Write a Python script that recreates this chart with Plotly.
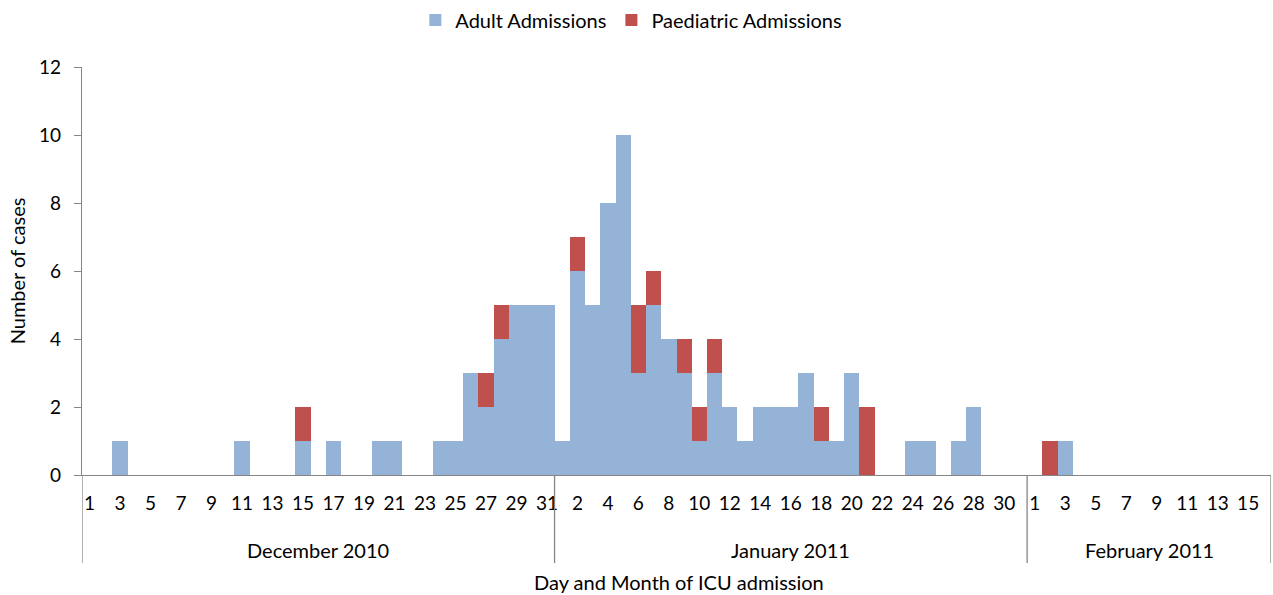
import plotly.graph_objects as go

# Daily ICU admissions, one entry per calendar day
dec_days = list(range(1, 32))
dec_adult = [0, 0, 1, 0, 0, 0, 0, 0, 0, 0,
             1, 0, 0, 0, 1, 0, 1, 0, 0, 1,
             1, 0, 0, 1, 1, 3, 2, 4, 5, 5, 5]
dec_paed = [0, 0, 0, 0, 0, 0, 0, 0, 0, 0,
            0, 0, 0, 0, 1, 0, 0, 0, 0, 0,
            0, 0, 0, 0, 0, 0, 1, 1, 0, 0, 0]

jan_days = list(range(1, 32))
jan_adult = [1, 6, 5, 8, 10, 3, 5, 4, 3, 1,
             3, 2, 1, 2, 2, 2, 3, 1, 1, 3,
             0, 0, 0, 1, 1, 0, 1, 2, 0, 0, 0]
jan_paed = [0, 1, 0, 0, 0, 2, 1, 0, 1, 1,
            1, 0, 0, 0, 0, 0, 0, 1, 0, 0,
            2, 0, 0, 0, 0, 0, 0, 0, 0, 0, 0]

feb_days = list(range(1, 17))
feb_adult = [0, 0, 1, 0, 0, 0, 0, 0, 0, 0, 0, 0, 0, 0, 0, 0]
feb_paed = [0, 1, 0, 0, 0, 0, 0, 0, 0, 0, 0, 0, 0, 0, 0, 0]

month_labels = ["December 2010", "January 2011", "February 2011"]
series_names = ["Adult Admissions", "Paediatric Admissions"]
y_ticks = [0, 2, 4, 6, 8, 10, 12]

BLUE = "#95B3D7"
RED = "#C0504D"
AXIS = "#868686"
FONT = "Lato"
TXT = 20
TICK = 19

months = [(dec_days, dec_adult, dec_paed),
          (jan_days, jan_adult, jan_paed),
          (feb_days, feb_adult, feb_paed)]

x_pos, day_lab, adult, paed = [], [], [], []
bounds = [-0.5]
for days, a, p in months:
    for d, av, pv in zip(days, a, p):
        x_pos.append(len(x_pos))
        day_lab.append(d)
        adult.append(av)
        paed.append(pv)
    bounds.append(len(x_pos) - 0.5)

# every other category carries a day label
tick_vals = x_pos[::2]
tick_text = [str(d) for d in day_lab[::2]]

fig = go.Figure()
fig.add_trace(go.Bar(x=x_pos, y=adult, name=series_names[0],
                     marker=dict(color=BLUE, line=dict(width=0))))
fig.add_trace(go.Bar(x=x_pos, y=paed, name=series_names[1],
                     marker=dict(color=RED, line=dict(width=0))))

plot_h = 408
sep_bottom = -(563 - 475) / plot_h
month_y = -(550 - 475) / plot_h

# month separators below the category axis
shapes = []
for b in bounds:
    shapes.append(dict(type="line", xref="x", yref="paper", x0=b, x1=b,
                       y0=sep_bottom, y1=0, line=dict(color=AXIS, width=1.3)))

annotations = []
for i, lab in enumerate(month_labels):
    annotations.append(dict(x=(bounds[i] + bounds[i + 1]) / 2, y=month_y,
                            xref="x", yref="paper", text=lab, showarrow=False,
                            font=dict(family=FONT, size=TXT, color="black"),
                            yanchor="middle"))
annotations.append(dict(x=0.502, y=-(582 - 475) / plot_h, xref="paper", yref="paper",
                        text="Day and Month of ICU admission", showarrow=False,
                        font=dict(family=FONT, size=TXT, color="black"),
                        yanchor="middle"))

fig.update_layout(
    barmode="stack",
    bargap=0,
    width=1273,
    height=595,
    margin=dict(l=82, r=2, t=67, b=120, autoexpand=False),
    plot_bgcolor="white",
    paper_bgcolor="white",
    font=dict(family=FONT, size=TXT, color="black"),
    legend=dict(orientation="h", x=0.462, xanchor="center",
                y=1 + (67 - 20) / plot_h, yanchor="middle",
                font=dict(family=FONT, size=TXT), itemwidth=30,
                traceorder="normal"),
    shapes=shapes,
    annotations=annotations,
    xaxis=dict(range=[-0.5, len(x_pos) - 0.5], tickvals=tick_vals,
               ticktext=tick_text, tickangle=0, showline=True, linecolor=AXIS,
               linewidth=1.3, ticks="", showgrid=False, zeroline=False,
               tickfont=dict(family=FONT, size=TICK), ticklabelstandoff=11),
    yaxis=dict(range=[0, 12], tickvals=y_ticks, showline=True, linecolor=AXIS,
               linewidth=1.3, ticks="outside", ticklen=7, tickcolor=AXIS,
               showgrid=False, zeroline=False,
               tickfont=dict(family=FONT, size=TICK), ticklabelstandoff=9,
               title=dict(text="Number of cases", font=dict(family=FONT, size=TXT),
                          standoff=8)),
)

fig.write_html("out.html")
